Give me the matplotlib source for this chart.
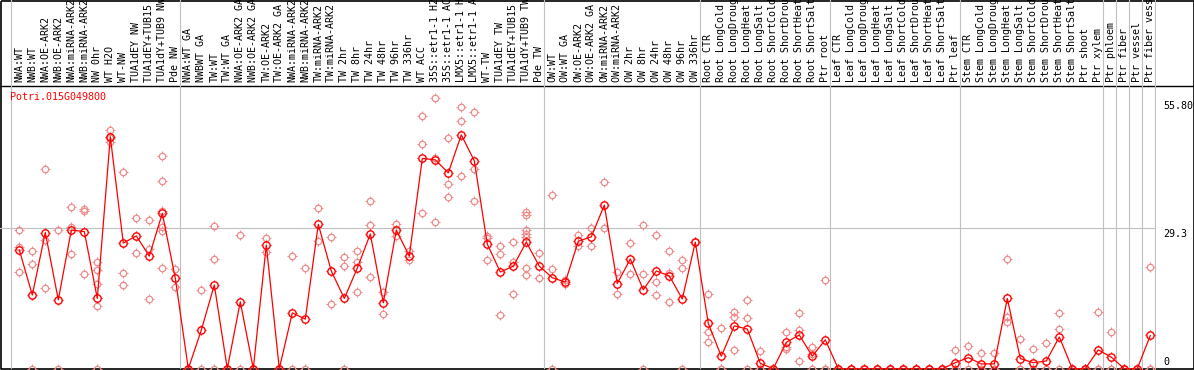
import numpy as np
import matplotlib
matplotlib.use("Agg")
import matplotlib.pyplot as plt
from matplotlib.path import Path

# sample labels, in plot order
labels = [
    'NWA:WT', 'NWB:WT', 'NWA:OE-ARK2', 'NWB:OE-ARK2', 'NWA:miRNA-ARK2', 'NWB:miRNA-ARK2',
    'NW 0hr', 'WT H2O', 'WT-NW', 'TUA1dEY NW', 'TUA1dEY+TUB15 NW', 'TUA1dY+TUB9 NW', 'Pde NW',
    'NWA:WT GA', 'NWBWT GA', 'TW:WT', 'TW:WT GA', 'NWA:OE-ARK2 GA', 'NWB:OE-ARK2 GA',
    'TW:OE-ARK2', 'TW:OE-ARK2 GA', 'NWA:miRNA-ARK2 GA', 'NWB:miRNA-ARK2 GA', 'TW:miRNA-ARK2',
    'TW:miRNA-ARK2 GA', 'TW 2hr', 'TW 8hr', 'TW 24hr', 'TW 48hr', 'TW 96hr', 'TW 336hr',
    'WT ACC', '35S::etr1-1 H2O', '35S::etr1-1 ACC', 'LMX5::etr1-1 H2O', 'LMX5::etr1-1 ACC',
    'WT-TW', 'TUA1dEY TW', 'TUA1dEY+TUB15 TW', 'TUA1dY+TUB9 TW', 'Pde TW',
    'OW:WT', 'OW:WT GA', 'OW:OE-ARK2', 'OW:OE-ARK2 GA', 'OW:miRNA-ARK2', 'OW:miRNA-ARK2 GA',
    'OW 2hr', 'OW 8hr', 'OW 24hr', 'OW 48hr', 'OW 96hr', 'OW 336hr',
    'Root CTR', 'Root LongCold', 'Root LongDrought', 'Root LongHeat', 'Root LongSalt',
    'Root ShortCold', 'Root ShortDrought', 'Root ShortHeat', 'Root ShortSalt', 'Ptr root',
    'Leaf CTR', 'Leaf LongCold', 'Leaf LongDrought', 'Leaf LongHeat', 'Leaf LongSalt',
    'Leaf ShortCold', 'Leaf ShortDrought', 'Leaf ShortHeat', 'Leaf ShortSalt', 'Ptr leaf',
    'Stem CTR', 'Stem LongCold', 'Stem LongDrought', 'Stem LongHeat', 'Stem LongSalt',
    'Stem ShortCold', 'Stem ShortDrought', 'Stem ShortHeat', 'Stem ShortSalt', 'Ptr shoot',
    'Ptr xylem', 'Ptr phloem', 'Ptr fiber', 'Ptr vessel', 'Ptr fiber vessel',
]

# mean expression per sample
means = [
    24.7, 15.3, 28.3, 14.3, 28.8, 28.5, 14.6, 48.2, 26.1, 27.6, 23.4, 32.3, 18.8,
    0, 8.0, 17.4, 0, 13.9, 0, 25.7, 0, 11.6, 10.3, 30.0, 20.3, 14.6, 20.9, 28.0,
    13.7, 28.8, 23.4, 43.7, 43.4, 40.7, 48.6, 43.2, 25.9, 20.1, 21.3, 26.3, 21.3,
    18.9, 18.0, 26.5, 27.4, 34.0, 17.7, 22.8, 16.4, 20.3, 19.3, 14.5, 26.3,
    9.4, 2.6, 8.9, 8.25, 1.1, 0, 5.5, 7.0, 2.6, 6.0,
    0, 0, 0, 0, 0, 0, 0, 0, 0, 1.25,
    2.3, 1.0, 1.0, 14.6, 2.1, 1.25, 1.6, 6.6, 0, 0,
    3.9, 2.4, 0, 0, 6.9,
]

# individual replicates per sample
replicates = [
    [28.8, 25.3, 20.1], [24.5, 21.7, 0], [41.6, 26.7, 16.7], [28.8, 0],
    [33.5, 29.5, 23.8], [33.2, 19.6, 32.7], [22.1, 20.5, 17.5, 13.0, 0],
    [49.6, 47.9, 47.1], [40.8, 19.8, 17.3], [31.3, 24.0], [30.9, 24.9, 14.4],
    [44.2, 39.0, 32.8, 29.4, 28.7, 20.9], [20.7, 16.9],
    [0, 0], [16.4, 0], [29.7, 22.9, 0], [0, 0], [27.8, 0], [0, 0], [27.1, 24.2],
    [0, 0], [23.4, 0], [20.9, 0], [33.3, 26.5], [27.3, 13.4], [23.2, 21.3, 0],
    [24.4, 22.2, 15.9], [34.9, 29.9, 19.1], [15.9, 11.4], [30.1, 27.6],
    [24.5, 22.5], [52.5, 46.7, 32.3], [56.3, 43.7, 30.5], [47.9, 38.4, 35.6],
    [54.4, 51.5, 40.0], [53.3, 41.5, 34.9], [27.6, 27.2, 22.6], [25.5, 23.8, 11.2],
    [26.3, 22.2, 15.5], [32.6, 31.9, 28.8, 28.0, 27.4, 20.9, 19.4], [24.0, 18.8],
    [36.2, 20.7, 0], [17.5, 18.4], [27.8, 25.5], [29.3, 25.4], [38.7, 29.2],
    [20.1, 15.5], [26.1, 19.6], [29.8, 19.6, 0], [27.8, 18.0, 15.3],
    [24.4, 19.8, 13.9], [22.6, 20.9, 0], [26.3],
    [15.5, 7.6, 5.5], [8.4, 0, 0], [11.8, 10.8, 3.9], [14.3, 10.5, 0], [3.7, 0, 0],
    [0, 0], [7.6, 4.6, 4.0], [11.5, 8.0, 1.6], [4.6, 3.0, 0], [18.4, 0, 0],
    [0, 0], [0, 0], [0, 0], [0, 0], [0, 0], [0, 0], [0, 0], [0, 0], [0, 0],
    [3.9, 0, 0],
    [4.7, 0], [3.2, 0, 0], [3.2, 0, 0], [22.9, 10.8, 9.8], [6.1, 0, 0],
    [4.1, 0, 0], [5.3, 0, 0], [11.5, 8.2, 0], [0, 0], [0, 0],
    [11.8, 0, 0], [7.6, 0, 0], [0, 0], [0, 0], [21.2, 0, 0],
]

group_starts = [0, 13, 41, 53, 63, 73, 84, 85, 86, 87, 88]
gene = 'Potri.015G049800'
ytick_vals = [55.80, 29.3, 0]
ytick_text = ['55.80', '29.3', '0']

W, H = 1194, 370
fig = plt.figure(figsize=(W / 100, H / 100), dpi=100)
font = dict(family='DejaVu Sans Mono', size=7.2)

px_per_x = 13.0
x0_px = 19.3
y0_px = 368.7
px_per_y = 4.812
ax_right = 1156
header_h = 85
max_chars = 14  # header column only fits this many characters
xlim = (-x0_px / px_per_x, (ax_right - x0_px) / px_per_x)
ylim = ((y0_px - 369) / px_per_y, (y0_px - 86) / px_per_y)

# little tick marks around each circle
r = 0.74
ticks = Path([(0, r), (0, 1), (0, -r), (0, -1), (r, 0), (1, 0), (-r, 0), (-1, 0)],
             [Path.MOVETO, Path.LINETO] * 4)

# background frame
bg = fig.add_axes([0, 0, 1, 1], zorder=0)
bg.set_xlim(0, W)
bg.set_ylim(H, 0)
bg.axis('off')
bg.plot([0.5, W - 0.5, W - 0.5, 0.5, 0.5], [0.5, 0.5, H - 0.8, H - 0.8, 0.5],
        color='black', lw=1.2, solid_capstyle='butt')
bg.plot([0, W], [header_h + 0.5, header_h + 0.5], color='black', lw=1)

ax = fig.add_axes([0, 1 / H, ax_right / W, (369 - 86) / H], zorder=2)
axh = fig.add_axes([0, 1 - header_h / H, ax_right / W, header_h / H], zorder=2)
for a in (ax, axh):
    a.set_xlim(*xlim)
    a.patch.set_alpha(0)
    a.axis('off')
    for g in group_starts:
        a.axvline(g - 0.62, color='#c0c0c0', lw=0.8, zorder=1)
ax.set_ylim(*ylim)
axh.set_ylim(0, 1)
ax.axhline(29.3, color='#c0c0c0', lw=0.8, zorder=1)

x = np.arange(len(labels))
pale = '#f08c8c'
for i, reps in enumerate(replicates):
    xs = [i] * len(reps)
    ax.plot(xs, reps, ls='none', marker=ticks, ms=6.6, mew=0.8, color=pale, zorder=3)
    ax.plot(xs, reps, ls='none', marker='o', ms=4.6, mew=0.9, mfc='none', mec=pale, zorder=3)

ax.plot(x, means, color='red', lw=0.9, zorder=4)
ax.plot(x, means, ls='none', marker=ticks, ms=7.2, mew=0.9, color='red', zorder=5)
ax.plot(x, means, ls='none', marker='o', ms=5.3, mew=1.0, mfc='none', mec='red', zorder=5)

for i, lab in enumerate(labels):
    axh.text(i, 2.5 / header_h, lab[:max_chars], rotation=90, ha='center', va='bottom',
             color='black', **font)

fig.text(10 / W, 1 - 92 / H, gene, color='red', ha='left', va='top', **font)

for v, t in zip(ytick_vals, ytick_text):
    if v == 0:
        ax.annotate(t, xy=(1, v), xycoords=('axes fraction', 'data'),
                    xytext=(5, 3), textcoords='offset points',
                    ha='left', va='baseline', annotation_clip=False, **font)
    else:
        ax.annotate(t, xy=(1, v), xycoords=('axes fraction', 'data'),
                    xytext=(5, -0.8), textcoords='offset points',
                    ha='left', va='top', annotation_clip=False, **font)

fig.savefig('out.png', dpi=100)
